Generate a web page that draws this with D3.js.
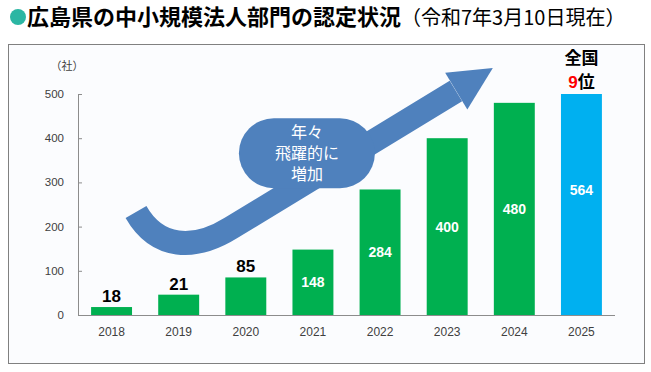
<!DOCTYPE html>
<html>
<head>
<meta charset="utf-8">
<script src="https://cdn.jsdelivr.net/npm/d3@7"></script>
<style>
  body { margin: 0; background: #ffffff; }
  svg { display: block; font-family: "Liberation Sans", "Noto Sans CJK JP", sans-serif; }
</style>
</head>
<body>
<div id="chart"></div>
<script>
// data
var years = ["2018", "2019", "2020", "2021", "2022", "2023", "2024", "2025"];
var counts = [18, 21, 85, 148, 284, 400, 480, 564];      // printed labels
var barValues = [18, 46, 85, 148, 284, 400, 480, 564];   // heights as drawn
var yTicks = [0, 100, 200, 300, 400, 500];

// arrow annotation, in [band position, value] units
var arrowPath = [[0.864, 233], [1.18, 149], [1.73, 145], [2.28, 197], [5.63, 507]];
var arrowHead = [[6.18, 559], [5.47, 548], [5.80, 465]];
var bubbleAt = [3.41, 366];
var bubbleLines = ["年々", "飛躍的に", "増加"];

var width = 651, height = 372;
var plotLeft = 78, plotRight = 615, plotTop = 94, plotBottom = 315;

var svg = d3.select("#chart").append("svg")
  .attr("width", width)
  .attr("height", height);

//title
svg.append("circle")
  .attr("cx", 18).attr("cy", 17).attr("r", 8)
  .style("fill", "#2bb6a3");
var title = svg.append("text")
  .attr("x", 27).attr("y", 25)
  .style("font-family", "'Noto Sans CJK JP'")
  .style("fill", "#000");
title.append("tspan")
  .style("font-size", "22px").style("font-weight", "bold")
  .text("広島県の中小規模法人部門の認定状況");
title.append("tspan")
  .style("font-size", "20px")
  .text("（令和7年3月10日現在）");

//frame
svg.append("rect")
  .attr("x", 8.5).attr("y", 44.5)
  .attr("width", 636).attr("height", 319)
  .style("fill", "#fbfcfe")
  .style("stroke", "#808080");

//scales
var x = d3.scaleBand()
  .domain(years)
  .range([plotLeft, plotRight])
  .paddingInner(0.39)
  .paddingOuter(0.195);

var y = d3.scaleLinear()
  .domain([0, 500])
  .range([plotBottom, plotTop]);

var pos = d3.scaleLinear()
  .domain([0, years.length])
  .range([plotLeft, plotRight]);

//axes
var yAxis = svg.append("g")
  .attr("transform", "translate(" + plotLeft + ",0)")
  .call(d3.axisRight(y).tickValues(yTicks).tickSize(4).tickSizeOuter(0).tickFormat(""));
yAxis.selectAll("line, path").style("stroke", "#8c8c8c");

svg.selectAll(".ylab")
  .data(yTicks)
  .enter()
  .append("text")
    .attr("class", "ylab")
    .attr("x", 64)
    .attr("y", function(d) { return y(d); })
    .attr("dy", "0.35em")
    .attr("text-anchor", "end")
    .style("font-size", "11.5px")
    .style("fill", "#404040")
    .text(function(d) { return d; });

svg.append("text")
  .attr("x", 67).attr("y", 70)
  .attr("text-anchor", "middle")
  .style("font-family", "'Noto Sans CJK JP'")
  .style("font-size", "11px")
  .style("fill", "#404040")
  .text("（社）");

svg.append("line")
  .attr("x1", plotLeft).attr("x2", plotRight)
  .attr("y1", plotBottom + 0.5).attr("y2", plotBottom + 0.5)
  .style("stroke", "#8c8c8c");

svg.selectAll(".xlab")
  .data(years)
  .enter()
  .append("text")
    .attr("class", "xlab")
    .attr("x", function(d) { return x(d) + x.bandwidth() / 2; })
    .attr("y", 336)
    .attr("text-anchor", "middle")
    .style("font-size", "12px")
    .style("fill", "#404040")
    .text(function(d) { return d; });

//bars
svg.selectAll(".bar")
  .data(barValues)
  .enter()
  .append("rect")
    .attr("class", "bar")
    .attr("x", function(d, i) { return x(years[i]); })
    .attr("y", function(d) { return y(Math.min(d, 500)); })
    .attr("width", x.bandwidth())
    .attr("height", function(d) { return plotBottom - y(Math.min(d, 500)); })
    .style("fill", function(d, i) { return i == years.length - 1 ? "#00b0f0" : "#00b050"; });

//arrow
var line = d3.line()
  .x(function(d) { return pos(d[0]); })
  .y(function(d) { return y(d[1]); });
var p = arrowPath.map(function(d) { return [pos(d[0]), y(d[1])]; });
svg.append("path")
  .attr("d", "M" + p[0] + "C" + p[1] + " " + p[2] + " " + p[3] + "L" + p[4])
  .style("fill", "none")
  .style("stroke", "#4f81bd")
  .style("stroke-width", 24);
svg.append("path")
  .attr("d", line(arrowHead) + "Z")
  .style("fill", "#4f81bd");

//bubble
var bx = pos(bubbleAt[0]), by = y(bubbleAt[1]);
svg.append("rect")
  .attr("x", bx - 68).attr("y", by - 35)
  .attr("width", 136).attr("height", 70)
  .attr("rx", 35).attr("ry", 35)
  .style("fill", "#4f81bd");
svg.selectAll(".bubble")
  .data(bubbleLines)
  .enter()
  .append("text")
    .attr("class", "bubble")
    .attr("x", bx)
    .attr("y", function(d, i) { return by + (i - 1) * 21; })
    .attr("dy", "0.36em")
    .attr("text-anchor", "middle")
    .style("font-family", "'Noto Sans CJK JP'")
    .style("font-size", "16px")
    .style("fill", "#ffffff")
    .text(function(d) { return d; });

//value labels
svg.selectAll(".val")
  .data(counts)
  .enter()
  .append("text")
    .attr("class", "val")
    .attr("x", function(d, i) { return x(years[i]) + x.bandwidth() / 2; })
    .attr("y", function(d, i) { return d < 100 ? y(barValues[i]) - 5 : y(d / 2); })
    .attr("dy", function(d) { return d < 100 ? "0" : "0.35em"; })
    .attr("text-anchor", "middle")
    .style("font-weight", "bold")
    .style("font-size", function(d) { return d < 100 ? "17px" : "14px"; })
    .style("fill", function(d) { return d < 100 ? "#000" : "#fff"; })
    .text(function(d) { return d; });

//rank note
var cx = x(years[years.length - 1]) + x.bandwidth() / 2;
svg.append("text")
  .attr("x", cx).attr("y", 64)
  .attr("text-anchor", "middle")
  .style("font-family", "'Noto Sans CJK JP'")
  .style("font-size", "17px").style("font-weight", "bold")
  .text("全国");
var rank = svg.append("text")
  .attr("x", cx).attr("y", 88)
  .attr("text-anchor", "middle")
  .style("font-size", "17px").style("font-weight", "bold");
rank.append("tspan").style("fill", "#ff0000").text("9");
rank.append("tspan").style("font-family", "'Noto Sans CJK JP'").text("位");
</script>
</body>
</html>
